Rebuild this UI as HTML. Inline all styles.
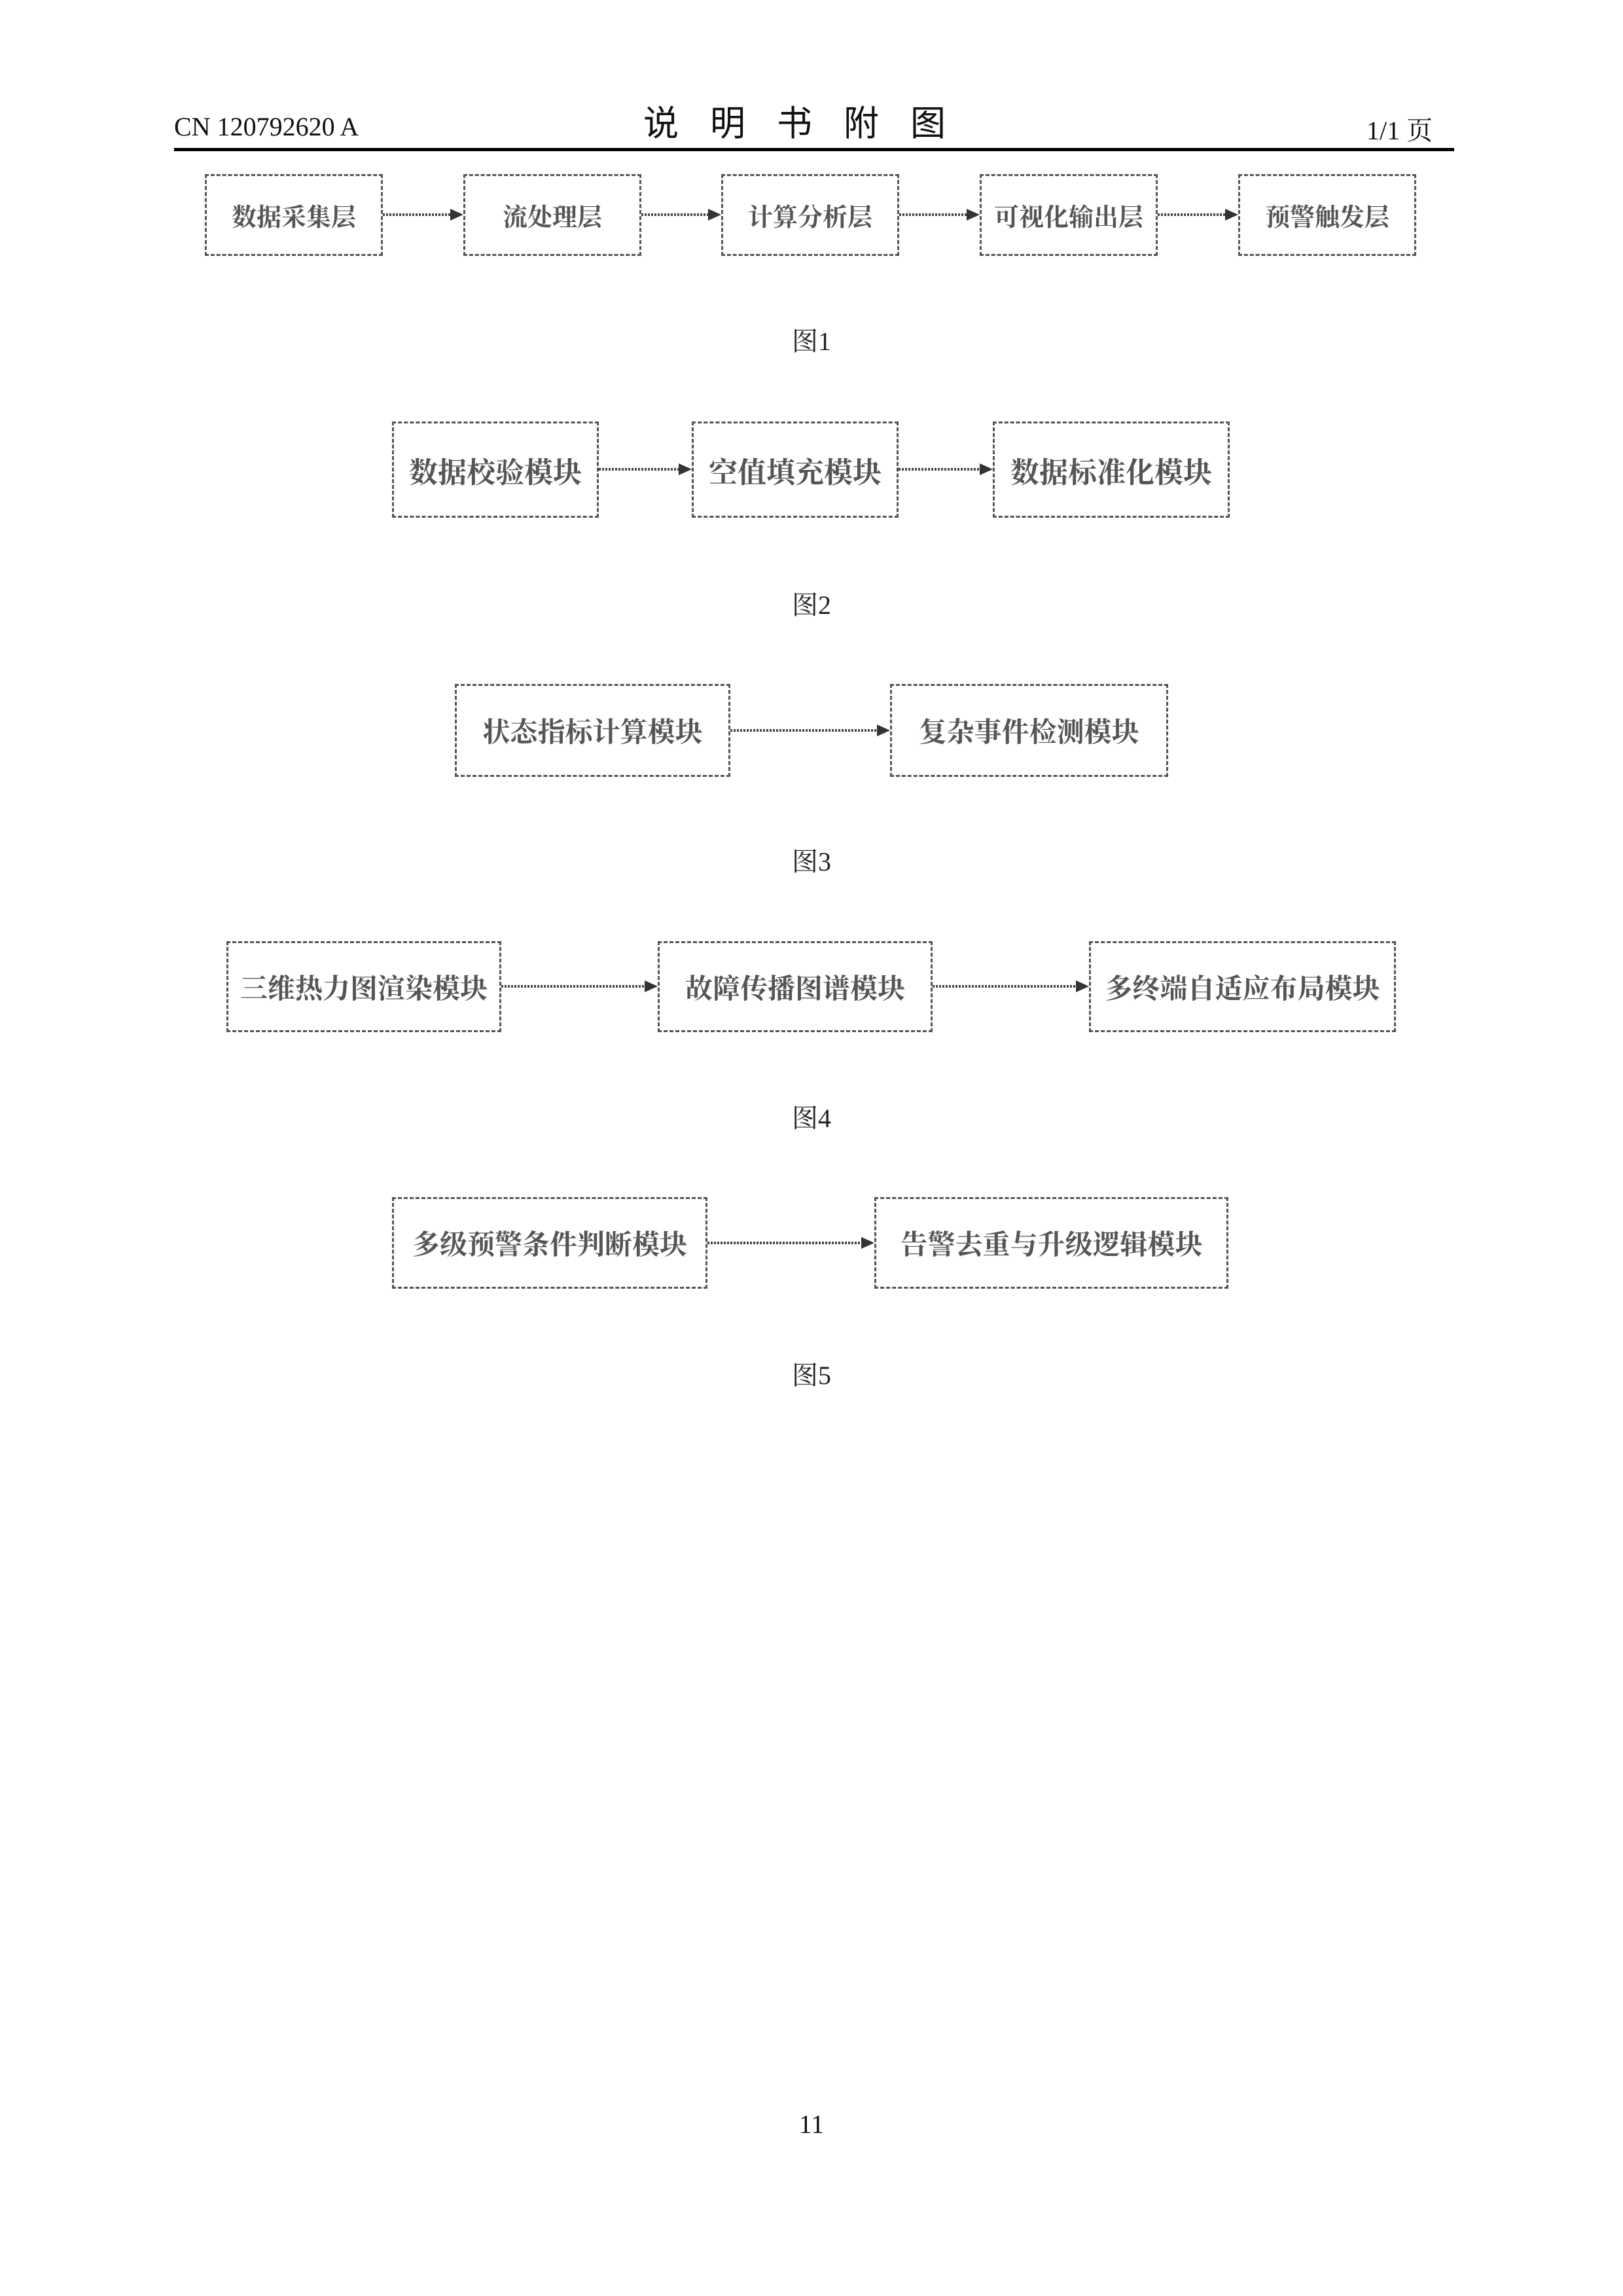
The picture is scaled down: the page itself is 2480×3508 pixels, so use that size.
<!DOCTYPE html>
<html><head><meta charset="utf-8"><style>
body{margin:0;background:#fff;}
#p{position:relative;width:2480px;height:3508px;overflow:hidden;background:#fff;font-family:"Liberation Serif","Noto Serif CJK SC",serif;}
.t{position:absolute;white-space:nowrap;color:#111;}
.b{position:absolute;box-sizing:border-box;border:3px dashed #555;display:flex;align-items:center;justify-content:center;color:#555;font-family:"Liberation Serif","Noto Serif CJK SC",serif;font-weight:bold;white-space:nowrap;}
.lab{position:absolute;font-size:40px;color:#222;transform:translateX(-50%);}
</style></head><body><div id="p">
<div class="t" style="left:266px;top:170px;font-size:40px;font-family:'Liberation Serif','Noto Serif CJK SC',serif;">CN 120792620 A</div>
<div class="t" style="left:983px;top:144px;font-size:54px;letter-spacing:48px;font-family:'Liberation Sans','Noto Sans CJK SC',sans-serif;">说明书附图</div>
<div class="t" style="left:2088px;top:168px;font-size:40px;">1/1 页</div>
<div style="position:absolute;left:266px;top:226px;width:1956px;height:5px;background:#000;"></div>

<div class="b" style="left:313px;top:266px;width:272px;height:125px;font-size:38px;">数据采集层</div>
<div class="b" style="left:708px;top:266px;width:272px;height:125px;font-size:38px;">流处理层</div>
<div class="b" style="left:1102px;top:266px;width:272px;height:125px;font-size:38px;">计算分析层</div>
<div class="b" style="left:1497px;top:266px;width:272px;height:125px;font-size:38px;">可视化输出层</div>
<div class="b" style="left:1892px;top:266px;width:272px;height:125px;font-size:38px;">预警触发层</div>
<div class="lab" style="left:1240px;top:490px;">图1</div>

<div class="b" style="left:599px;top:644px;width:316px;height:147px;font-size:44px;">数据校验模块</div>
<div class="b" style="left:1057px;top:644px;width:316px;height:147px;font-size:44px;">空值填充模块</div>
<div class="b" style="left:1517px;top:644px;width:362px;height:147px;font-size:44px;">数据标准化模块</div>
<div class="lab" style="left:1240px;top:893px;">图2</div>

<div class="b" style="left:695px;top:1045px;width:421px;height:142px;font-size:42px;">状态指标计算模块</div>
<div class="b" style="left:1360px;top:1045px;width:425px;height:142px;font-size:42px;">复杂事件检测模块</div>
<div class="lab" style="left:1240px;top:1285px;">图3</div>

<div class="b" style="left:346px;top:1438px;width:420px;height:139px;font-size:42px;">三维热力图渲染模块</div>
<div class="b" style="left:1005px;top:1438px;width:420px;height:139px;font-size:42px;">故障传播图谱模块</div>
<div class="b" style="left:1664px;top:1438px;width:469px;height:139px;font-size:42px;">多终端自适应布局模块</div>
<div class="lab" style="left:1240px;top:1677px;">图4</div>

<div class="b" style="left:599px;top:1829px;width:482px;height:140px;font-size:42px;">多级预警条件判断模块</div>
<div class="b" style="left:1336px;top:1829px;width:541px;height:140px;font-size:42px;">告警去重与升级逻辑模块</div>
<div class="lab" style="left:1240px;top:2070px;">图5</div>

<div class="t" style="left:1240px;top:3222px;font-size:40px;transform:translateX(-50%);">11</div>

<svg width="2480" height="3508" style="position:absolute;left:0;top:0" stroke="#444" fill="#333">
<g stroke-width="4" stroke-dasharray="3 2">
<line x1="585" y1="328" x2="691" y2="328"/>
<line x1="980" y1="328" x2="1085" y2="328"/>
<line x1="1374" y1="328" x2="1480" y2="328"/>
<line x1="1769" y1="328" x2="1875" y2="328"/>
<line x1="915" y1="717" x2="1040" y2="717"/>
<line x1="1373" y1="717" x2="1500" y2="717"/>
<line x1="1116" y1="1116" x2="1343" y2="1116"/>
<line x1="766" y1="1507" x2="988" y2="1507"/>
<line x1="1425" y1="1507" x2="1647" y2="1507"/>
<line x1="1081" y1="1899" x2="1319" y2="1899"/>
</g>
<g stroke="none">
<polygon points="708,328 688,319 688,337"/>
<polygon points="1102,328 1082,319 1082,337"/>
<polygon points="1497,328 1477,319 1477,337"/>
<polygon points="1892,328 1872,319 1872,337"/>
<polygon points="1057,717 1037,708 1037,726"/>
<polygon points="1517,717 1497,708 1497,726"/>
<polygon points="1360,1116 1340,1107 1340,1125"/>
<polygon points="1005,1507 985,1498 985,1516"/>
<polygon points="1664,1507 1644,1498 1644,1516"/>
<polygon points="1336,1899 1316,1890 1316,1908"/>
</g>
</svg>
</div></body></html>
